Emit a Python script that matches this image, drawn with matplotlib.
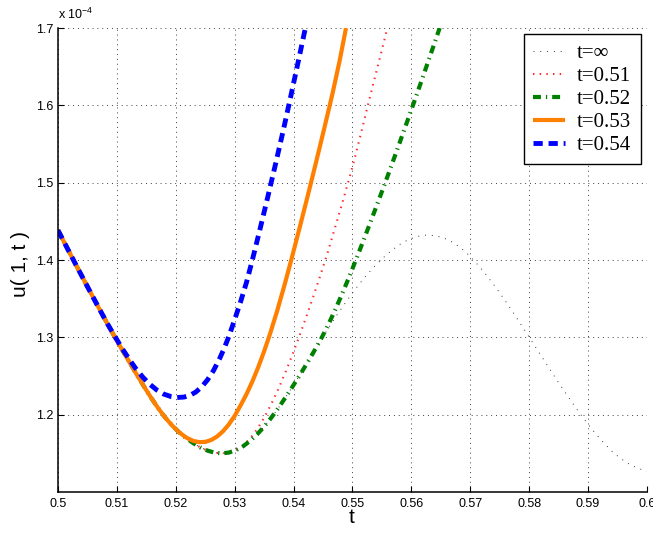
import matplotlib
matplotlib.use("Agg")
import matplotlib.pyplot as plt

plt.rcParams["font.family"] = ["Liberation Sans", "DejaVu Sans"]
plt.rcParams["mathtext.default"] = "regular"

# ---- data (u in units of 1e-4) ----
t_inf = [0.5000, 0.5012, 0.5024, 0.5036, 0.5048, 0.5060, 0.5072, 0.5084,
         0.5096, 0.5110, 0.5122, 0.5134, 0.5146, 0.5158, 0.5170, 0.5182,
         0.5194, 0.5206, 0.5218, 0.5230, 0.5242, 0.5254, 0.5266, 0.5278,
         0.5290, 0.5302, 0.5314, 0.5326, 0.5338, 0.5350, 0.5362, 0.5374,
         0.5386, 0.5398, 0.5410, 0.5422, 0.5434, 0.5446, 0.5460, 0.5475,
         0.5490, 0.5505, 0.5520, 0.5535, 0.5550, 0.5565, 0.5580, 0.5595,
         0.5610, 0.5625, 0.5640, 0.5655, 0.5670, 0.5685, 0.5700, 0.5715,
         0.5730, 0.5745, 0.5760, 0.5775, 0.5790, 0.5805, 0.5820, 0.5835,
         0.5850, 0.5865, 0.5880, 0.5895, 0.5910, 0.5925, 0.5940, 0.5955,
         0.5970, 0.5985, 0.6000]
u_inf = [1.4385, 1.4208, 1.4032, 1.3858, 1.3685, 1.3513, 1.3343, 1.3175,
         1.3010, 1.2825, 1.2670, 1.2515, 1.2365, 1.2220, 1.2085, 1.1963,
         1.1858, 1.1770, 1.1695, 1.1630, 1.1575, 1.1535, 1.1508, 1.1500,
         1.1510, 1.1540, 1.1590, 1.1660, 1.1745, 1.1845, 1.1960, 1.2085,
         1.2220, 1.2360, 1.2505, 1.2655, 1.2810, 1.2960, 1.3130, 1.3305,
         1.3470, 1.3625, 1.3770, 1.3900, 1.4015, 1.4115, 1.4200, 1.4265,
         1.4305, 1.4322, 1.4315, 1.4285, 1.4230, 1.4150, 1.4045, 1.3920,
         1.3780, 1.3628, 1.3466, 1.3295, 1.3120, 1.2943, 1.2765, 1.2588,
         1.2413, 1.2243, 1.2080, 1.1925, 1.1780, 1.1648, 1.1530, 1.1435,
         1.1360, 1.1305, 1.1270]

t_051 = [0.5000, 0.5012, 0.5024, 0.5036, 0.5048, 0.5060, 0.5072, 0.5084,
         0.5096, 0.5110, 0.5122, 0.5134, 0.5146, 0.5158, 0.5170, 0.5182,
         0.5194, 0.5206, 0.5218, 0.5230, 0.5242, 0.5254, 0.5266, 0.5278,
         0.5290, 0.5302, 0.5314, 0.5326, 0.5338, 0.5350, 0.5362, 0.5374,
         0.5386, 0.5398, 0.5410, 0.5422, 0.5434, 0.5446, 0.5458, 0.5470,
         0.5482, 0.5494, 0.5506, 0.5518, 0.5530, 0.5542, 0.5554, 0.5559]
u_051 = [1.4385, 1.4208, 1.4032, 1.3858, 1.3685, 1.3513, 1.3343, 1.3175,
         1.3010, 1.2825, 1.2670, 1.2515, 1.2365, 1.2220, 1.2085, 1.1963,
         1.1858, 1.1770, 1.1695, 1.1630, 1.1575, 1.1535, 1.1508, 1.1500,
         1.1510, 1.1540, 1.1600, 1.1690, 1.1810, 1.1960, 1.2135, 1.2330,
         1.2545, 1.2775, 1.3020, 1.3275, 1.3540, 1.3815, 1.4100, 1.4410,
         1.4720, 1.5040, 1.5380, 1.5750, 1.6120, 1.6480, 1.6840, 1.7000]

t_052 = [0.5000, 0.5012, 0.5024, 0.5036, 0.5048, 0.5060, 0.5072, 0.5084,
         0.5096, 0.5110, 0.5122, 0.5134, 0.5146, 0.5158, 0.5170, 0.5182,
         0.5194, 0.5206, 0.5218, 0.5230, 0.5242, 0.5254, 0.5266, 0.5278,
         0.5290, 0.5302, 0.5314, 0.5326, 0.5338, 0.5350, 0.5362, 0.5374,
         0.5386, 0.5398, 0.5410, 0.5422, 0.5434, 0.5446, 0.5458, 0.5470,
         0.5482, 0.5494, 0.5506, 0.5520, 0.5534, 0.5548, 0.5562, 0.5576,
         0.5590, 0.5604, 0.5618, 0.5632, 0.5648]
u_052 = [1.4385, 1.4208, 1.4032, 1.3858, 1.3685, 1.3513, 1.3343, 1.3175,
         1.3010, 1.2825, 1.2670, 1.2515, 1.2365, 1.2220, 1.2085, 1.1963,
         1.1858, 1.1770, 1.1695, 1.1630, 1.1575, 1.1535, 1.1508, 1.1500,
         1.1510, 1.1540, 1.1590, 1.1660, 1.1745, 1.1845, 1.1960, 1.2085,
         1.2220, 1.2360, 1.2505, 1.2655, 1.2810, 1.2970, 1.3150, 1.3345,
         1.3555, 1.3775, 1.4005, 1.4280, 1.4560, 1.4845, 1.5135, 1.5430,
         1.5730, 1.6030, 1.6335, 1.6645, 1.7000]

t_053 = [0.5000, 0.5012, 0.5024, 0.5036, 0.5048, 0.5060, 0.5072, 0.5084,
         0.5096, 0.5110, 0.5122, 0.5134, 0.5146, 0.5158, 0.5170, 0.5182,
         0.5194, 0.5206, 0.5218, 0.5230, 0.5240, 0.5250, 0.5260, 0.5270,
         0.5280, 0.5290, 0.5300, 0.5310, 0.5320, 0.5330, 0.5340, 0.5350,
         0.5360, 0.5372, 0.5384, 0.5396, 0.5410, 0.5424, 0.5438, 0.5452,
         0.5466, 0.5478, 0.5489]
u_053 = [1.4385, 1.4208, 1.4032, 1.3858, 1.3685, 1.3513, 1.3343, 1.3175,
         1.3010, 1.2825, 1.2670, 1.2515, 1.2365, 1.2220, 1.2085, 1.1963,
         1.1858, 1.1770, 1.1703, 1.1660, 1.1645, 1.1648, 1.1672, 1.1717,
         1.1784, 1.1873, 1.1985, 1.2120, 1.2265, 1.2430, 1.2615, 1.2820,
         1.3045, 1.3340, 1.3660, 1.4000, 1.4410, 1.4830, 1.5260, 1.5700,
         1.6150, 1.6570, 1.7000]

t_054 = [0.5000, 0.5012, 0.5024, 0.5036, 0.5048, 0.5060, 0.5072, 0.5084,
         0.5096, 0.5108, 0.5120, 0.5132, 0.5144, 0.5156, 0.5168, 0.5180,
         0.5192, 0.5202, 0.5214, 0.5224, 0.5234, 0.5244, 0.5254, 0.5264,
         0.5274, 0.5282, 0.5290, 0.5300, 0.5310, 0.5320, 0.5330, 0.5343,
         0.5356, 0.5369, 0.5382, 0.5395, 0.5408, 0.5420]
u_054 = [1.4385, 1.4208, 1.4032, 1.3858, 1.3685, 1.3513, 1.3343, 1.3175,
         1.3020, 1.2868, 1.2727, 1.2597, 1.2485, 1.2392, 1.2318, 1.2265,
         1.2234, 1.2222, 1.2228, 1.2250, 1.2293, 1.2360, 1.2452, 1.2570,
         1.2718, 1.2855, 1.3010, 1.3230, 1.3460, 1.3710, 1.4000, 1.4400,
         1.4810, 1.5230, 1.5660, 1.6110, 1.6570, 1.7000]

legend_labels = ["t=\u221e", "t=0.51", "t=0.52", "t=0.53", "t=0.54"]
x_ticks = [0.5, 0.51, 0.52, 0.53, 0.54, 0.55, 0.56, 0.57, 0.58, 0.59, 0.6]
x_tick_labels = ["0.5", "0.51", "0.52", "0.53", "0.54", "0.55", "0.56",
                 "0.57", "0.58", "0.59", "0.6"]
y_ticks = [1.2, 1.3, 1.4, 1.5, 1.6, 1.7]
y_tick_labels = ["1.2", "1.3", "1.4", "1.5", "1.6", "1.7"]

# ---- figure ----
fig = plt.figure(figsize=(6.53, 5.33), dpi=100)
ax = fig.add_axes([0.0888, 0.0769, 0.902, 0.8705])

ax.plot(t_inf, u_inf, color="0.2", lw=0.7, linestyle=(0, (1, 6)),
        label=legend_labels[0])
ax.plot(t_051, u_051, color="#ff2a2a", lw=1.5, linestyle=(0, (0.7, 2.5)),
        label=legend_labels[1])
ax.plot(t_052, u_052, color="#008000", lw=3.0,
        linestyle=(0, (1.9, 1.2, 0.3, 1.2)), label=legend_labels[2])
ax.plot(t_053, u_053, color="#ff8000", lw=3.0, solid_capstyle="butt",
        solid_joinstyle="round", label=legend_labels[3])
ax.plot(t_054, u_054, color="#0000ff", lw=3.5, linestyle=(0, (1.9, 1.2)),
        label=legend_labels[4])

ax.set_xlim(0.5, 0.6)
ax.set_ylim(1.1, 1.7)
ax.set_xticks(x_ticks)
ax.set_xticklabels(x_tick_labels)
ax.set_yticks(y_ticks)
ax.set_yticklabels(y_tick_labels)

ax.grid(True, linestyle=(0, (1, 4)), color="0.25", linewidth=0.7)
ax.set_axisbelow(True)

for side in ("top", "right"):
    ax.spines[side].set_visible(False)
for side in ("left", "bottom"):
    ax.spines[side].set_linewidth(1.1)
    ax.spines[side].set_color("black")

ax.tick_params(direction="in", length=4, width=0.8, labelsize=9,
               colors="black", top=False, right=False)
ax.tick_params(axis="x", pad=4.5)
ax.tick_params(axis="y", pad=3.5)

ax.set_xlabel("t", fontsize=15, va="center", ha="center")
ax.xaxis.set_label_coords(0.499, -0.055)
ax.set_ylabel("u( 1, t )", fontsize=15, va="center", ha="center")
ax.yaxis.set_label_coords(-0.063, 0.491)

ax.text(0.0, 1.012, "x 10$^{-4}$", transform=ax.transAxes, fontsize=9,
        ha="left", va="bottom")

leg = ax.legend(loc="upper right", bbox_to_anchor=(0.989, 0.9864),
                borderaxespad=0, fancybox=False, framealpha=1,
                edgecolor="black", handlelength=1.55, handletextpad=0.55,
                labelspacing=0.16, borderpad=0.45,
                prop={"family": ["Liberation Serif", "DejaVu Serif"],
                      "size": 15})
leg.get_frame().set_linewidth(1.0)

fig.savefig("out.png", dpi=100)
